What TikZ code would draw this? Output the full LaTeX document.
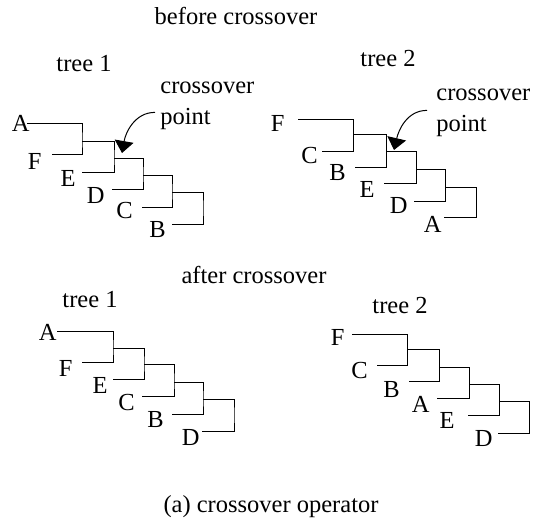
\documentclass[tikz,border=0pt]{standalone}
\usepackage{fontspec}
\setmainfont{Liberation Serif}
\usetikzlibrary{arrows.meta,positioning}

\begin{document}
\begin{tikzpicture}
  [x=0.5pt, y=-0.5pt,
   every node/.style={font=\fontsize{12.25}{15}\selectfont, inner sep=0pt},
   leaf/.style={anchor=base east},
   title/.style={anchor=base},
   note/.style={anchor=base west},
   branch/.style={line width=0.5pt},
   pointer/.style={line width=0.5pt, -{Triangle[length=6pt, width=9.5pt]}}]
  \useasboundingbox (0,0) rectangle (533,529);

  % before crossover
  \node[title] (before) at (236,25) {before crossover};
  \node[title] (tb1) at (84,72) {tree 1};
  \node[title] (tb2) at (388,67) {tree 2};

  \foreach \n/\x/\y/\lx/\ly in {A/27/124/30/132, F/52/154/42/169, E/82/172/76/186,
      D/112/189/105/203, C/142/207/133/218, B/172/224/166/237}
  {
    \coordinate (b1\n) at (\x,\y);
    \node[leaf] (b1\n lab) at (\lx,\ly) {\n};
  }
  \foreach \k/\x/\y in {1/82/141, 2/114/158, 3/143/175, 4/172/192, 5/203/208}
    \coordinate (b1j\k) at (\x,\y);
  \draw[branch] (b1A) -| (b1j1) |- (b1F)
    (b1j1) -| (b1j2) |- (b1E)
    (b1j2) -| (b1j3) |- (b1D)
    (b1j3) -| (b1j4) |- (b1C)
    (b1j4) -| (b1j5) |- (b1B);

  \foreach \n/\x/\y/\lx/\ly in {F/298/120/285/132, C/322/151/318/163, B/355/167/346/180,
      E/384/183/375/197, D/414/201/408/213, A/444/217/442/232}
  {
    \coordinate (b2\n) at (\x,\y);
    \node[leaf] (b2\n lab) at (\lx,\ly) {\n};
  }
  \foreach \k/\x/\y in {1/353/135, 2/386/151, 3/416/169, 4/445/187, 5/476/202}
    \coordinate (b2j\k) at (\x,\y);
  \draw[branch] (b2F) -| (b2j1) |- (b2C)
    (b2j1) -| (b2j2) |- (b2B)
    (b2j2) -| (b2j3) |- (b2E)
    (b2j3) -| (b2j4) |- (b2D)
    (b2j4) -| (b2j5) |- (b2A);

  % crossover points
  \node[note] (cross1) at (160,94) {crossover};
  \node[note] (point1) at (160,125) {point};
  \coordinate (cut1) at (122,153);
  \draw[pointer] ([shift={(-2.5pt,-2pt)}]point1.north west) to[out=180, in=80] (cut1);

  \node[note] (cross2) at (436,101) {crossover};
  \node[note] (point2) at (436,132) {point};
  \coordinate (cut2) at (394,150);
  \draw[pointer] ([shift={(-4.5pt,2.5pt)}]point2.north west) to[out=180, in=77] (cut2);

  % after crossover
  \node[title] (after) at (254,283) {after crossover};
  \node[title] (ta1) at (90,307) {tree 1};
  \node[title] (ta2) at (400,313) {tree 2};

  \foreach \n/\x/\y/\lx/\ly in {A/57/331/57/340, F/82/362/73/376, E/113/379/108/393,
      C/142/396/135/410, B/172/414/164/427, D/202/431/200/445}
  {
    \coordinate (a1\n) at (\x,\y);
    \node[leaf] (a1\n lab) at (\lx,\ly) {\n};
  }
  \foreach \k/\x/\y in {1/113/348, 2/144/364, 3/174/382, 4/203/399, 5/234/415}
    \coordinate (a1j\k) at (\x,\y);
  \draw[branch] (a1A) -| (a1j1) |- (a1F)
    (a1j1) -| (a1j2) |- (a1E)
    (a1j2) -| (a1j3) |- (a1C)
    (a1j3) -| (a1j4) |- (a1B)
    (a1j4) -| (a1j5) |- (a1D);

  \foreach \n/\x/\y/\lx/\ly in {F/352/334/345/345, C/377/365/368/378, B/409/381/400/397,
      A/437/398/430/412, E/468/415/455/428, D/498/433/493/446}
  {
    \coordinate (a2\n) at (\x,\y);
    \node[leaf] (a2\n lab) at (\lx,\ly) {\n};
  }
  \foreach \k/\x/\y in {1/407/349, 2/439/367, 3/469/384, 4/499/401, 5/529/417}
    \coordinate (a2j\k) at (\x,\y);
  \draw[branch] (a2F) -| (a2j1) |- (a2C)
    (a2j1) -| (a2j2) |- (a2B)
    (a2j2) -| (a2j3) |- (a2A)
    (a2j3) -| (a2j4) |- (a2E)
    (a2j4) -| (a2j5) |- (a2D);

  \node[title] (caption) at (271,512) {(a) crossover operator};
\end{tikzpicture}
\end{document}
